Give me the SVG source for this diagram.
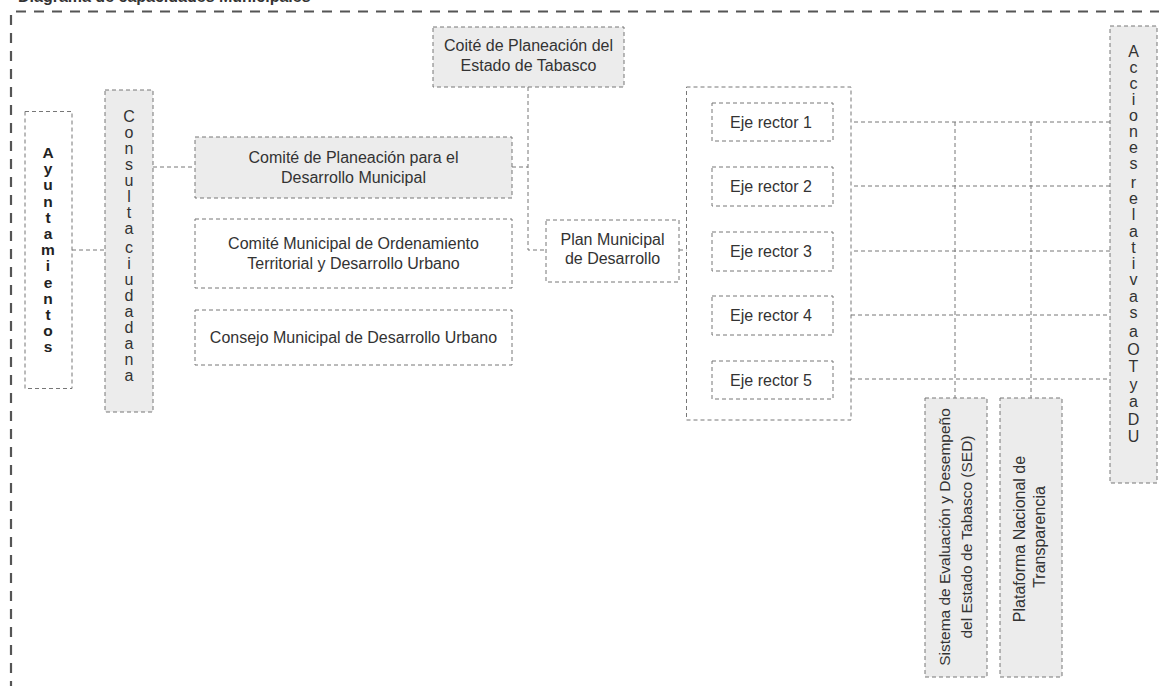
<svg xmlns="http://www.w3.org/2000/svg" width="1159" height="686" viewBox="0 0 1159 686">
<style>
  .frame{fill:none;stroke:#555;stroke-width:2.2;stroke-dasharray:10 8}
  .box{fill:#fff;stroke:#777;stroke-width:1;stroke-dasharray:4 3}
  .gbox{fill:#ececec;stroke:#777;stroke-width:1;stroke-dasharray:4 3}
  .con{fill:none;stroke:#777;stroke-width:1;stroke-dasharray:4 3}
  .t{font-family:"Liberation Sans",Arial,sans-serif;font-size:16px;fill:#333;text-anchor:middle}
  .tr{font-family:"Liberation Sans",Arial,sans-serif;font-size:15.5px;fill:#333;text-anchor:middle}
  .tv{font-family:"Liberation Sans",Arial,sans-serif;font-size:16px;fill:#333;text-anchor:middle}
  .tb{font-family:"Liberation Sans",Arial,sans-serif;font-size:15.5px;font-weight:bold;fill:#222;text-anchor:middle}
  .title{font-family:"Liberation Sans",Arial,sans-serif;font-size:16px;font-weight:bold;fill:#333}
</style>
<rect width="1159" height="686" fill="#fff"/>
<g id="frame">
  <text class="title" x="18" y="2">Diagrama de capacidades Municipales</text>
  <path class="frame" d="M16,11.5 H1159"/>
  <path class="frame" d="M11,15 V686"/>
</g>
<g id="connectors">
  <path class="con" d="M72,250 H105"/>
  <path class="con" d="M153,167 H195"/>
  <path class="con" d="M512,167 H528"/>
  <path class="con" d="M528,87 V250 H546"/>
  <path class="con" d="M679,250 H696"/>
  <path class="con" d="M696,122 V380"/>
  <path class="con" d="M696,122 H712 M696,186 H712 M696,251 H712 M696,315 H712 M696,380 H712"/>
  <path class="con" d="M833,122 H1110 M833,186 H1110 M833,251 H1110 M851,315 H1110 M851,379 H1110"/>
  <path class="con" d="M955,122 V398 M1031,122 V398"/>
</g>
<g id="ayuntamientos">
  <rect class="box" x="25" y="111.5" width="47" height="277"/>
  <text class="tb"><tspan x="48" y="158">A</tspan><tspan x="48" y="174.2">y</tspan><tspan x="48" y="190.4">u</tspan><tspan x="48" y="206.6">n</tspan><tspan x="48" y="222.8">t</tspan><tspan x="48" y="239">a</tspan><tspan x="48" y="255.2">m</tspan><tspan x="48" y="271.4">i</tspan><tspan x="48" y="287.6">e</tspan><tspan x="48" y="303.8">n</tspan><tspan x="48" y="320">t</tspan><tspan x="48" y="336.2">o</tspan><tspan x="48" y="352.4">s</tspan></text>
</g>
<g id="consulta">
  <rect class="gbox" x="105" y="90" width="48" height="322"/>
  <text class="tv"><tspan x="129" y="122">C</tspan><tspan x="129" y="138">o</tspan><tspan x="129" y="154">n</tspan><tspan x="129" y="170">s</tspan><tspan x="129" y="186">u</tspan><tspan x="129" y="202">l</tspan><tspan x="129" y="218">t</tspan><tspan x="129" y="234">a</tspan><tspan x="129" y="253">c</tspan><tspan x="129" y="269">i</tspan><tspan x="129" y="285">u</tspan><tspan x="129" y="301">d</tspan><tspan x="129" y="317">a</tspan><tspan x="129" y="333">d</tspan><tspan x="129" y="349">a</tspan><tspan x="129" y="365">n</tspan><tspan x="129" y="381">a</tspan></text>
</g>
<g id="comite-planeacion">
  <rect class="gbox" x="195" y="137" width="317" height="61"/>
  <text class="t"><tspan x="353.5" y="162.5">Comité de Planeación para el</tspan><tspan x="353.5" y="182.5">Desarrollo Municipal</tspan></text>
</g>
<g id="comite-ordenamiento">
  <rect class="box" x="195" y="219" width="317" height="69"/>
  <text class="t"><tspan x="353.5" y="248.5">Comité Municipal de Ordenamiento</tspan><tspan x="353.5" y="268.5">Territorial y Desarrollo Urbano</tspan></text>
</g>
<g id="consejo">
  <rect class="box" x="195" y="310" width="317" height="55"/>
  <text class="t" x="353.5" y="342.5">Consejo Municipal de Desarrollo Urbano</text>
</g>
<g id="coite-estado">
  <rect class="gbox" x="433" y="27" width="191" height="60"/>
  <text class="t"><tspan x="528.5" y="50.5">Coité de Planeación del</tspan><tspan x="528.5" y="70.5">Estado de Tabasco</tspan></text>
</g>
<g id="plan-municipal">
  <rect class="box" x="546" y="220" width="133" height="62"/>
  <text class="t"><tspan x="612.5" y="244.5">Plan Municipal</tspan><tspan x="612.5" y="263.5">de Desarrollo</tspan></text>
</g>
<g id="ejes-container">
  <rect class="box" x="686.5" y="87" width="164.5" height="333"/>
</g>
<g id="eje1"><rect class="box" x="712" y="103" width="121" height="38"/><text class="t" x="771" y="127.5">Eje rector 1</text></g>
<g id="eje2"><rect class="box" x="712" y="167" width="121" height="39"/><text class="t" x="771" y="192">Eje rector 2</text></g>
<g id="eje3"><rect class="box" x="712" y="232" width="121" height="39"/><text class="t" x="771" y="257">Eje rector 3</text></g>
<g id="eje4"><rect class="box" x="712" y="296" width="121" height="39"/><text class="t" x="771" y="321">Eje rector 4</text></g>
<g id="eje5"><rect class="box" x="712" y="361" width="121" height="38"/><text class="t" x="771" y="385.5">Eje rector 5</text></g>
<g id="sed">
  <rect class="gbox" x="925" y="398" width="62" height="279"/>
  <text class="tr" transform="translate(949.5,537) rotate(-90)">Sistema de Evaluación y Desempeño</text>
  <text class="tr" transform="translate(972,537) rotate(-90)">del Estado de Tabasco (SED)</text>
</g>
<g id="plataforma">
  <rect class="gbox" x="1000" y="398" width="62" height="279"/>
  <text class="t" transform="translate(1024.5,539) rotate(-90)">Plataforma Nacional de</text>
  <text class="t" transform="translate(1044.5,537) rotate(-90)">Transparencia</text>
</g>
<g id="acciones">
  <rect class="gbox" x="1110" y="26" width="47" height="457"/>
  <text class="tv"><tspan x="1133.5" y="57">A</tspan><tspan x="1133.5" y="73">c</tspan><tspan x="1133.5" y="89">c</tspan><tspan x="1133.5" y="105">i</tspan><tspan x="1133.5" y="121">o</tspan><tspan x="1133.5" y="137">n</tspan><tspan x="1133.5" y="153">e</tspan><tspan x="1133.5" y="169">s</tspan><tspan x="1133.5" y="188">r</tspan><tspan x="1133.5" y="204">e</tspan><tspan x="1133.5" y="220">l</tspan><tspan x="1133.5" y="237">a</tspan><tspan x="1133.5" y="253">t</tspan><tspan x="1133.5" y="269">i</tspan><tspan x="1133.5" y="285">v</tspan><tspan x="1133.5" y="302">a</tspan><tspan x="1133.5" y="318">s</tspan><tspan x="1133.5" y="337">a</tspan><tspan x="1133.5" y="355">O</tspan><tspan x="1133.5" y="372">T</tspan><tspan x="1133.5" y="390">y</tspan><tspan x="1133.5" y="407">a</tspan><tspan x="1133.5" y="425">D</tspan><tspan x="1133.5" y="442">U</tspan></text>
</g>
</svg>
